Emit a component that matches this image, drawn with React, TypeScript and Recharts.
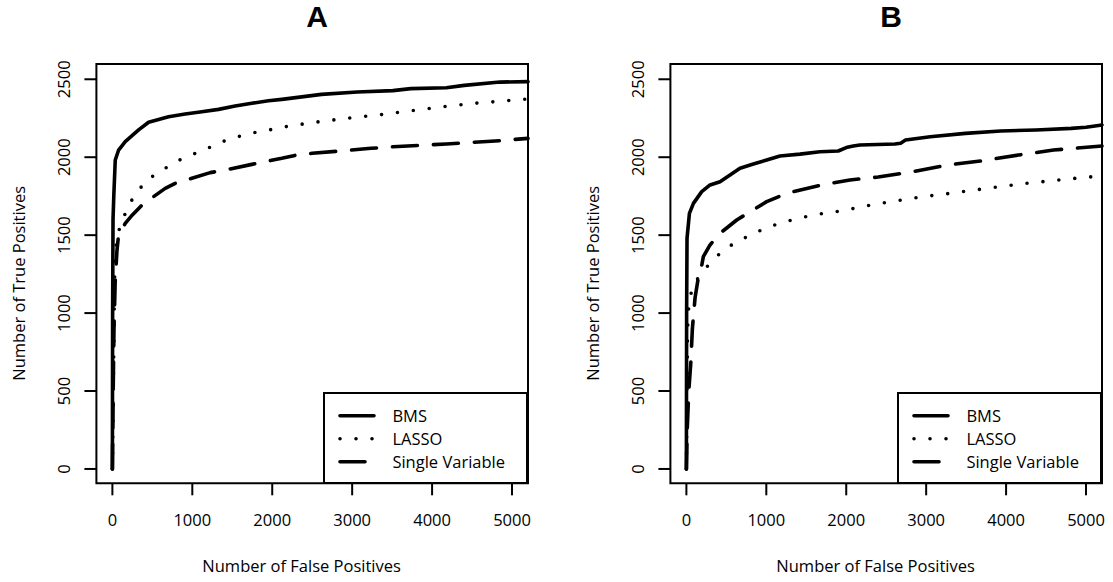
import { LineChart, Line, XAxis, YAxis, Legend, ReferenceArea } from "recharts";

const FONT = "'Open Sans', sans-serif";
const X_TICKS = [0, 1000, 2000, 3000, 4000, 5000];
const Y_TICKS = [0, 500, 1000, 1500, 2000, 2500];
const X_DOMAIN = [-200, 5200];
const Y_DOMAIN = [-92, 2598];
const SERIES_NAMES = ["BMS", "LASSO", "Single Variable"];

// panel A
const aBmsFp = [0, 3, 8, 19, 36, 78, 161, 328, 453, 703, 911, 1120, 1328, 1536, 1745, 1953, 2120, 2616, 3062, 3510, 3732, 4179, 4402, 4849, 5200];
const aBmsTp = [0, 1000, 1600, 1770, 1982, 2046, 2100, 2175, 2224, 2260, 2277, 2292, 2307, 2328, 2346, 2362, 2371, 2403, 2418, 2427, 2440, 2446, 2461, 2482, 2485];
const aLassoFp = [0, 12, 22, 32, 60, 128, 203, 307, 432, 607, 778, 961, 1149, 1336, 1528, 1720, 1915, 2120, 2500, 2920, 3331, 3732, 4135, 4536, 5139, 5200];
const aLassoTp = [0, 500, 1000, 1350, 1500, 1597, 1693, 1775, 1854, 1911, 1967, 2010, 2046, 2093, 2125, 2153, 2170, 2192, 2222, 2249, 2271, 2298, 2324, 2346, 2371, 2373];
const aSingleFp = [0, 10, 20, 35, 57, 75, 161, 250, 370, 515, 661, 786, 995, 1224, 1453, 1745, 1953, 2120, 2304, 2500, 2906, 3236, 3510, 4179, 4849, 5200];
const aSingleTp = [0, 500, 900, 1200, 1400, 1490, 1576, 1630, 1693, 1747, 1800, 1832, 1865, 1901, 1922, 1954, 1976, 1993, 2014, 2025, 2042, 2057, 2067, 2085, 2106, 2121];

// panel B
const bBmsFp = [0, 3, 8, 38, 88, 192, 296, 421, 546, 671, 838, 1005, 1171, 1421, 1671, 1900, 2000, 2088, 2171, 2609, 2680, 2742, 3051, 3491, 3933, 4374, 4815, 5000, 5200];
const bBmsTp = [0, 1000, 1480, 1640, 1704, 1779, 1822, 1843, 1886, 1929, 1956, 1982, 2008, 2020, 2035, 2040, 2062, 2072, 2078, 2085, 2090, 2110, 2131, 2153, 2168, 2175, 2185, 2192, 2207];
const bLassoFp = [0, 8, 15, 30, 67, 163, 296, 442, 609, 788, 971, 1163, 1359, 1555, 1755, 1955, 2154, 2558, 2963, 3359, 3756, 4175, 4571, 4991, 5200];
const bLassoTp = [0, 500, 900, 1050, 1148, 1244, 1319, 1394, 1452, 1497, 1540, 1576, 1602, 1625, 1644, 1655, 1679, 1715, 1747, 1772, 1800, 1828, 1849, 1871, 1879];
const bSingleFp = [0, 10, 30, 55, 75, 109, 150, 190, 212, 296, 421, 630, 796, 1005, 1255, 1505, 1755, 2046, 2400, 2830, 3271, 3712, 4154, 4594, 5200];
const bSingleTp = [0, 250, 500, 680, 900, 1100, 1230, 1300, 1362, 1437, 1512, 1597, 1650, 1715, 1768, 1800, 1828, 1854, 1873, 1907, 1950, 1978, 2014, 2046, 2072];

const zip = (fp: number[], tp: number[]) => fp.map((v, i) => ({ fp: v, tp: tp[i] }));

const DASH: Record<string, string | undefined> = {
  BMS: undefined,
  LASSO: "0 16",
  "Single Variable": "25 16",
};

const XTick = ({ x, y, payload }: any) => (
  <text x={x} y={y} textAnchor="middle" fontFamily={FONT} fontSize={16.5} fill="#000">
    {payload.value}
  </text>
);

const YTick = ({ x, y, payload }: any) => (
  <text
    x={x}
    y={y}
    transform={`rotate(-90 ${x} ${y})`}
    textAnchor="middle"
    fontFamily={FONT}
    fontSize={16.5}
    fill="#000"
  >
    {payload.value}
  </text>
);

function LegendBox() {
  return (
    <svg width={205} height={92} style={{ display: "block" }}>
      <rect x={1} y={1} width={203} height={90} fill="#fff" stroke="#000" strokeWidth={2} />
      {SERIES_NAMES.map((name, i) => {
        const cy = 23.7 + i * 23;
        return (
          <g key={name}>
            <line
              x1={17}
              x2={51}
              y1={cy}
              y2={cy}
              stroke="#000"
              strokeWidth={3.6}
              strokeLinecap="round"
              strokeDasharray={DASH[name]}
            />
            <text x={69.4} y={cy + 6} fontFamily={FONT} fontSize={16.5} fill="#000">
              {name}
            </text>
          </g>
        );
      })}
    </svg>
  );
}

interface PanelProps {
  title: string;
  left: number;
  width: number;
  series: { fp: number; tp: number }[][];
}

function Panel({ title, left, width, series }: PanelProps) {
  return (
    <div style={{ position: "absolute", left, top: 0 }}>
      <LineChart width={width} height={582} margin={{ top: 64, right: width - 528, bottom: 0, left: 0 }}>
        <XAxis
          type="number"
          dataKey="fp"
          domain={X_DOMAIN}
          ticks={X_TICKS}
          height={98.7}
          axisLine={false}
          tickSize={12}
          tickMargin={31}
          tickLine={{ stroke: "#000", strokeWidth: 2 }}
          tick={<XTick />}
          label={{
            content: ({ viewBox }: any) => (
              <text
                x={viewBox.x + viewBox.width / 2 - 10.6}
                y={viewBox.y + 88.2}
                textAnchor="middle"
                fontFamily={FONT}
                fontSize={16.5}
                fill="#000"
              >
                Number of False Positives
              </text>
            ),
          }}
        />
        <YAxis
          type="number"
          domain={Y_DOMAIN}
          ticks={Y_TICKS}
          width={96.4}
          axisLine={false}
          tickSize={12}
          tickMargin={14.8}
          tickLine={{ stroke: "#000", strokeWidth: 2 }}
          tick={<YTick />}
          label={{
            content: ({ viewBox }: any) => {
              const lx = viewBox.x + 25;
              const ly = viewBox.y + viewBox.height / 2 + 9.7;
              return (
                <text
                  x={lx}
                  y={ly}
                  transform={`rotate(-90 ${lx} ${ly})`}
                  textAnchor="middle"
                  fontFamily={FONT}
                  fontSize={16.5}
                  fill="#000"
                >
                  Number of True Positives
                </text>
              );
            },
          }}
        />
        <ReferenceArea
          x1={X_DOMAIN[0]}
          x2={X_DOMAIN[1]}
          y1={Y_DOMAIN[0]}
          y2={Y_DOMAIN[1]}
          fill="none"
          stroke="#000"
          strokeWidth={2}
          ifOverflow="visible"
        />
        {SERIES_NAMES.map((name, i) => (
          <Line
            key={name}
            name={name}
            data={series[i]}
            dataKey="tp"
            type="linear"
            stroke="#000"
            strokeWidth={3.6}
            strokeLinecap="round"
            strokeLinejoin="round"
            strokeDasharray={DASH[name]}
            dot={false}
            isAnimationActive={false}
          />
        ))}
        <Legend
          layout="horizontal"
          verticalAlign="middle"
          align="center"
          wrapperStyle={{ position: "absolute", left: 323.2, top: 392, width: 205, height: 92 }}
          content={() => <LegendBox />}
        />
        <text
          x={317}
          y={27.4}
          textAnchor="middle"
          fontFamily="'Liberation Sans', Arial, sans-serif"
          fontWeight="bold"
          fontSize={30}
          fill="#000"
        >
          {title}
        </text>
      </LineChart>
    </div>
  );
}

export default function App() {
  return (
    <div style={{ position: "absolute", left: 0, top: 0, width: 1113, height: 582, overflow: "hidden", background: "#fff" }}>
      <Panel
        title="A"
        left={0}
        width={556}
        series={[zip(aBmsFp, aBmsTp), zip(aLassoFp, aLassoTp), zip(aSingleFp, aSingleTp)]}
      />
      <Panel
        title="B"
        left={574}
        width={539}
        series={[zip(bBmsFp, bBmsTp), zip(bLassoFp, bLassoTp), zip(bSingleFp, bSingleTp)]}
      />
    </div>
  );
}
